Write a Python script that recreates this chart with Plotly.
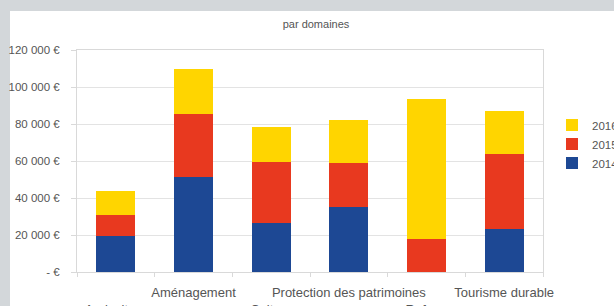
import plotly.graph_objects as go

categories = ["Agriculture", "Aménagement", "Culture",
              "Protection des patrimoines", "Refuge", "Tourisme durable"]
row_of_label = [2, 1, 2, 1, 2, 1]
years = ["2014", "2015", "2016"]
v2014 = [19500, 51300, 26500, 35100, 0, 23200]
v2015 = [11300, 34100, 33000, 23800, 17800, 40600]
v2016 = [13000, 24300, 18900, 23300, 75700, 23200]
y_ticks = [0, 20000, 40000, 60000, 80000, 100000, 120000]
y_tick_labels = ["- €", "20 000 €", "40 000 €", "60 000 €", "80 000 €", "100 000 €", "120 000 €"]
colors = {"2014": "#1d4894", "2015": "#e8391f", "2016": "#ffd500"}

series = {"2014": v2014, "2015": v2015, "2016": v2016}

fig = go.Figure()
for yr in years:
    fig.add_trace(go.Bar(x=categories, y=series[yr], name=yr,
                         marker=dict(color=colors[yr], line=dict(width=0))))

ticktext = [("<br>" + c) if r == 2 else c for c, r in zip(categories, row_of_label)]

W, H = 614, 306
L, R, T, B = 77, 71, 50, 34
pw, ph = W - L - R, H - T - B

fig.update_layout(
    width=W, height=H,
    margin=dict(l=L, r=R, t=T, b=B, autoexpand=False),
    barmode="stack", bargap=0.5,
    paper_bgcolor="#d3d7da", plot_bgcolor="white",
    font=dict(family="Liberation Sans, Arial, sans-serif", color="#555555", size=11),
    title=dict(text="par domaines", x=316 / W, xref="container", xanchor="center",
               y=1 - 24 / H, yref="container", yanchor="middle",
               font=dict(size=11, color="#555555")),
    showlegend=True,
    legend=dict(x=(552 - L) / pw, xanchor="left", y=(272 - 144) / ph, yanchor="middle",
                traceorder="reversed", font=dict(size=11.5, color="#555555"),
                bgcolor="rgba(0,0,0,0)"),
    shapes=[dict(type="rect", xref="paper", yref="paper", layer="below",
                 x0=(10 - L) / pw, x1=(W + 10 - L) / pw,
                 y0=-(B + 10) / ph, y1=(272 - 11) / ph,
                 fillcolor="white", line=dict(width=0))],
)
fig.update_xaxes(type="category", tickmode="array", tickvals=categories, ticktext=ticktext,
                 range=[-0.5, 5.5], tickson="boundaries", ticks="outside", ticklen=4,
                 tickcolor="#d9d9d9", showline=True, linecolor="#d9d9d9", mirror=True,
                 showgrid=False, tickfont=dict(size=13, color="#555555"),
                 tickangle=0, automargin=False, ticklabelstandoff=8)
fig.update_yaxes(range=[0, 120000], tickmode="array", tickvals=y_ticks, ticktext=y_tick_labels,
                 ticks="outside", ticklen=5, tickcolor="#d9d9d9", showline=True,
                 linecolor="#d9d9d9", mirror=True, gridcolor="#e3e3e3", gridwidth=1,
                 zeroline=False, tickfont=dict(size=11.5, color="#555555"),
                 automargin=False, ticklabelstandoff=9)

fig.write_html("out.html", config={"displayModeBar": False},
               post_script="document.body.style.margin='0';document.body.style.overflow='hidden';")
